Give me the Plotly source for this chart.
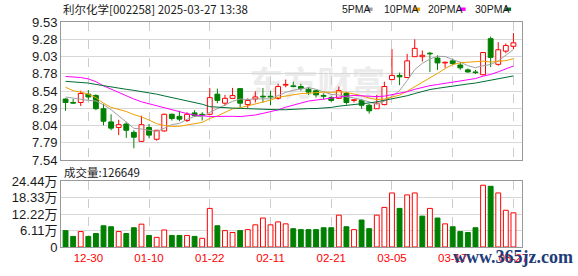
import plotly.graph_objects as go

# ---------------- data ----------------
dates = ["12-25", "12-26", "12-27", "12-30", "12-31", "01-02", "01-03", "01-06", "01-07", "01-08",
         "01-09", "01-10", "01-13", "01-14", "01-15", "01-16", "01-17", "01-20", "01-21", "01-22",
         "01-23", "01-24", "01-27", "02-05", "02-06", "02-07", "02-10", "02-11", "02-12", "02-13",
         "02-14", "02-17", "02-18", "02-19", "02-20", "02-21", "02-24", "02-25", "02-26", "02-27",
         "02-28", "03-03", "03-04", "03-05", "03-06", "03-07", "03-10", "03-11", "03-12", "03-13",
         "03-14", "03-17", "03-18", "03-19", "03-20", "03-21", "03-24", "03-25", "03-26", "03-27"]

opens = [8.42, 8.37, 8.37, 8.49, 8.47, 8.28, 8.09, 8.01, 8.06, 7.94,
         7.81, 8.01, 7.84, 7.96, 8.20, 8.17, 8.11, 8.22, 8.20, 8.20,
         8.49, 8.36, 8.43, 8.57, 8.34, 8.42, 8.46, 8.46, 8.43, 8.62,
         8.61, 8.60, 8.56, 8.54, 8.47, 8.44, 8.43, 8.50, 8.40, 8.40,
         8.33, 8.28, 8.34, 8.70, 8.76, 8.73, 9.03, 9.03, 9.08, 9.01,
         8.94, 8.97, 8.91, 8.84, 8.81, 8.77, 9.29, 8.92, 9.11, 9.18]
highs = [8.43, 8.42, 8.54, 8.55, 8.49, 8.35, 8.20, 8.12, 8.09, 7.97,
         8.18, 8.06, 7.97, 8.21, 8.21, 8.25, 8.23, 8.26, 8.23, 8.58,
         8.57, 8.48, 8.58, 8.57, 8.43, 8.53, 8.58, 8.54, 8.64, 8.70,
         8.67, 8.64, 8.59, 8.55, 8.50, 8.46, 8.60, 8.52, 8.41, 8.42,
         8.35, 8.48, 8.67, 9.14, 8.80, 9.07, 9.28, 9.12, 9.10, 9.05,
         8.96, 9.00, 8.95, 8.86, 8.84, 9.09, 9.32, 9.24, 9.22, 9.37]
lows = [8.25, 8.35, 8.32, 8.41, 8.26, 8.04, 7.97, 7.90, 7.86, 7.71,
        7.80, 7.86, 7.82, 7.95, 8.11, 8.10, 8.09, 8.16, 8.11, 8.19,
        8.36, 8.32, 8.42, 8.30, 8.29, 8.37, 8.37, 8.33, 8.41, 8.59,
        8.59, 8.54, 8.48, 8.44, 8.41, 8.38, 8.42, 8.34, 8.37, 8.28,
        8.21, 8.28, 8.33, 8.70, 8.62, 8.72, 9.03, 8.96, 8.81, 8.84,
        8.87, 8.91, 8.84, 8.80, 8.78, 8.76, 8.88, 8.90, 9.08, 9.14]
closes = [8.37, 8.36, 8.50, 8.45, 8.28, 8.10, 8.00, 8.05, 7.97, 7.87,
          8.05, 7.90, 7.97, 8.20, 8.14, 8.13, 8.20, 8.18, 8.19, 8.44,
          8.40, 8.43, 8.47, 8.36, 8.40, 8.45, 8.45, 8.45, 8.60, 8.63,
          8.60, 8.57, 8.52, 8.48, 8.46, 8.40, 8.54, 8.37, 8.41, 8.33,
          8.25, 8.36, 8.60, 8.76, 8.74, 8.97, 9.15, 9.05, 9.07, 8.94,
          8.95, 8.93, 8.87, 8.81, 8.80, 9.09, 9.02, 9.13, 9.19, 9.23]

ma5 = [8.45, 8.43, 8.41, 8.40, 8.392, 8.338, 8.266, 8.176, 8.08, 7.998,
       7.988, 7.968, 7.952, 7.998, 8.052, 8.068, 8.128, 8.17, 8.168, 8.228,
       8.282, 8.328, 8.386, 8.42, 8.412, 8.422, 8.426, 8.422, 8.47, 8.516,
       8.546, 8.57, 8.584, 8.56, 8.526, 8.486, 8.48, 8.45, 8.436, 8.41,
       8.38, 8.344, 8.39, 8.46, 8.542, 8.686, 8.844, 8.934, 8.996, 9.036,
       9.032, 8.988, 8.952, 8.90, 8.872, 8.90, 8.918, 8.97, 9.046, 9.132]
ma10 = [8.59, 8.54, 8.52, 8.49, 8.44, 8.36, 8.30, 8.27, 8.24, 8.195,
        8.163, 8.117, 8.064, 8.039, 8.025, 8.028, 8.048, 8.061, 8.083, 8.14,
        8.175, 8.228, 8.278, 8.294, 8.32, 8.352, 8.377, 8.404, 8.445, 8.464,
        8.484, 8.498, 8.503, 8.515, 8.521, 8.516, 8.525, 8.517, 8.498, 8.468,
        8.433, 8.412, 8.42, 8.448, 8.476, 8.533, 8.594, 8.662, 8.728, 8.789,
        8.859, 8.916, 8.943, 8.948, 8.954, 8.966, 8.953, 8.961, 8.973, 9.002]
ma20 = [8.745, 8.74, 8.73, 8.71, 8.67, 8.61, 8.56, 8.51, 8.46, 8.42,
        8.38, 8.35, 8.32, 8.29, 8.26, 8.24, 8.21, 8.19, 8.18, 8.168,
        8.169, 8.173, 8.171, 8.167, 8.173, 8.19, 8.213, 8.233, 8.264, 8.302,
        8.33, 8.363, 8.391, 8.405, 8.421, 8.434, 8.451, 8.461, 8.472, 8.466,
        8.459, 8.455, 8.462, 8.482, 8.499, 8.525, 8.56, 8.59, 8.613, 8.629,
        8.646, 8.664, 8.682, 8.698, 8.715, 8.75, 8.774, 8.812, 8.851, 8.896]
ma30 = [8.675, 8.67, 8.66, 8.65, 8.63, 8.61, 8.59, 8.575, 8.56, 8.545,
        8.53, 8.51, 8.49, 8.465, 8.44, 8.42, 8.40, 8.37, 8.345, 8.31,
        8.30, 8.295, 8.29, 8.285, 8.28, 8.275, 8.27, 8.27, 8.265, 8.266,
        8.274, 8.281, 8.282, 8.283, 8.289, 8.299, 8.317, 8.327, 8.342, 8.357,
        8.364, 8.379, 8.40, 8.419, 8.439, 8.467, 8.499, 8.528, 8.557, 8.574,
        8.592, 8.609, 8.622, 8.637, 8.650, 8.672, 8.691, 8.713, 8.733, 8.753]

# volume in 万
volumes = [6.08, 3.93, 5.72, 3.93, 5.0, 7.87, 7.51, 5.72, 5.0, 7.15,
           8.46, 4.29, 3.58, 6.32, 4.29, 4.29, 4.29, 3.93, 3.22, 14.3,
           7.87, 6.08, 5.36, 6.08, 6.44, 8.22, 10.73, 8.22, 9.30, 8.58,
           6.79, 6.44, 6.44, 6.44, 7.15, 7.15, 11.8, 7.51, 6.44, 10.0,
           6.79, 11.8, 14.66, 20.03, 14.3, 19.31, 20.03, 11.44, 14.3, 10.73,
           8.58, 7.51, 5.72, 5.36, 7.15, 22.9, 22.5, 20.03, 13.6, 12.66]

price_ticks = ["7.54", "7.79", "8.04", "8.29", "8.54", "8.78", "9.03", "9.28", "9.53"]
vol_ticks = ["0", "6.11万", "12.22万", "18.33万", "24.44万"]
date_ticks = ["12-30", "01-10", "01-22", "02-11", "02-21", "03-05", "03-17", "03-27"]
title_text = "利尔化学[002258] 2025-03-27 13:38"
vol_title = "成交量:126649"
ma_names = ["5PMA", "10PMA", "20PMA", "30PMA"]
watermark = "www.365jz.com"
logo_text = "东方财富"

# ---------------- styles ----------------
RED = "#ff0000"
GREEN = "#008000"
ma_colors = ["#a0a0a0", "#f0a000", "#ff00ff", "#006f35"]
W, H = 578, 276
L, R, T, B = 56, 56, 22, 21
PW, PH = W - L - R, H - T - B
BODY_W = 0.64


def px(xp):
    return (xp - L) / PW


def py(yp):
    return (H - B - yp) / PH


p_lo, p_hi = float(price_ticks[0]), float(price_ticks[-1])
p_vals = [p_lo + k * (p_hi - p_lo) / (len(price_ticks) - 1) for k in range(len(price_ticks))]
v_hi = float(vol_ticks[-1].rstrip("万"))
v_vals = [k * v_hi / (len(vol_ticks) - 1) for k in range(len(vol_ticks))]

fig = go.Figure()

# candle bodies (bars) and wicks (line segments outside the body)
rise = [c > o for o, c in zip(opens, closes)]
body_base = [min(o, c) for o, c in zip(opens, closes)]
body_h = [max(abs(c - o), 0.006) for o, c in zip(opens, closes)]
fig.add_trace(go.Bar(
    x=dates, y=body_h, base=body_base, width=BODY_W,
    marker=dict(color=["white" if r else GREEN for r in rise],
                line=dict(color=[RED if r else GREEN for r in rise], width=1)),
    xaxis="x", yaxis="y", hoverinfo="skip"))

for want, col in [(True, RED), (False, GREEN)]:
    wx, wy = [], []
    for d, o, hi, lo, c, r in zip(dates, opens, highs, lows, closes, rise):
        if r != want:
            continue
        top, bot = max(o, c), min(o, c)
        wx += [d, d, None, d, d, None]
        wy += [hi, top, None, bot, lo, None]
    fig.add_trace(go.Scatter(x=wx, y=wy, mode="lines", line=dict(color=col, width=1),
                             xaxis="x", yaxis="y", hoverinfo="skip", connectgaps=False))

for vals, col in zip([ma5, ma10, ma20, ma30], ma_colors):
    fig.add_trace(go.Scatter(x=dates, y=vals, mode="lines", line=dict(color=col, width=1),
                             xaxis="x", yaxis="y", hoverinfo="skip"))

up = []
for i, c in enumerate(closes):
    ref = opens[0] if i == 0 else closes[i - 1]
    up.append(c >= ref)
fig.add_trace(go.Bar(
    x=dates, y=volumes, width=BODY_W,
    marker=dict(color=["white" if u else GREEN for u in up],
                line=dict(color=[RED if u else GREEN for u in up], width=1)),
    xaxis="x2", yaxis="y2", hoverinfo="skip"))

x_range = [-0.6, len(dates) - 1 + 1.13]
axis_common = dict(showline=True, linecolor="#999999", linewidth=1, mirror=True, ticks="",
                   zeroline=False)
fig.update_layout(
    width=W, height=H, margin=dict(l=L, r=R, t=T, b=B),
    paper_bgcolor="white", plot_bgcolor="white", showlegend=False, barmode="overlay",
    xaxis=dict(domain=[0, 1], anchor="y", type="category", range=x_range,
               tickvals=date_ticks, showticklabels=False, showgrid=True,
               gridcolor="#cccccc", griddash="dash", **axis_common),
    yaxis=dict(domain=[py(165), 1], anchor="x", range=[p_lo, p_hi], tickvals=p_vals,
               ticktext=price_ticks, showgrid=True, gridcolor="#d8d8d8",
               tickfont=dict(family="Liberation Sans", size=13, color="#1a1a1a"),
               **axis_common),
    xaxis2=dict(domain=[0, 1], anchor="y2", type="category", range=x_range,
                tickvals=date_ticks, showgrid=True, gridcolor="#cccccc", griddash="dash",
                tickfont=dict(family="Liberation Sans", size=11.5, color=RED),
                **axis_common),
    yaxis2=dict(domain=[0, py(186.7)], anchor="x2", range=[0, v_hi], tickvals=v_vals,
                ticktext=vol_ticks, showgrid=True, gridcolor="#d8d8d8",
                tickfont=dict(family="Liberation Sans, Noto Sans CJK SC", size=13, color="#1a1a1a"),
                **axis_common),
)

ann = [
    dict(text=title_text, x=px(56), y=py(9), xanchor="left", yanchor="middle",
         font=dict(family="Noto Sans CJK SC", size=11.5, color="#1a1a1a")),
    dict(text=vol_title, x=px(57), y=py(177.5), xanchor="left", yanchor="middle",
         font=dict(family="Noto Sans CJK SC", size=11.5, color="#1a1a1a")),
    dict(text="<b>" + watermark + "</b>", x=px(513), y=py(265), xanchor="center", yanchor="middle",
         font=dict(family="Liberation Serif", size=18, color="#1d3c78")),
]
leg_x = [338, 380, 425, 472]
sq_x = [365, 413, 459, 505]
shapes = [
    # faint background logo
    dict(type="rect", xref="paper", yref="paper", x0=px(238), x1=px(392), y0=py(106), y1=py(72),
         line=dict(width=0), fillcolor="rgba(0,0,0,0)", layer="below",
         label=dict(text="<b>" + logo_text + "</b>", font=dict(family="Noto Sans CJK SC", size=34,
                                                              color="#ececec"))),
]
for name, lx, sx, col in zip(ma_names, leg_x, sq_x, ma_colors):
    ann.append(dict(text=name, x=px(lx), y=py(8.5), xanchor="left", yanchor="middle",
                    font=dict(family="Liberation Sans", size=10.5, color="#1a1a1a")))
    shapes.append(dict(type="rect", xref="paper", yref="paper", x0=px(sx), x1=px(sx + 6),
                       y0=py(10.5), y1=py(7), fillcolor=col, line=dict(width=0)))
for a in ann:
    a.update(xref="paper", yref="paper", showarrow=False)
fig.update_layout(annotations=ann, shapes=shapes)

fig.write_html("out.html")
